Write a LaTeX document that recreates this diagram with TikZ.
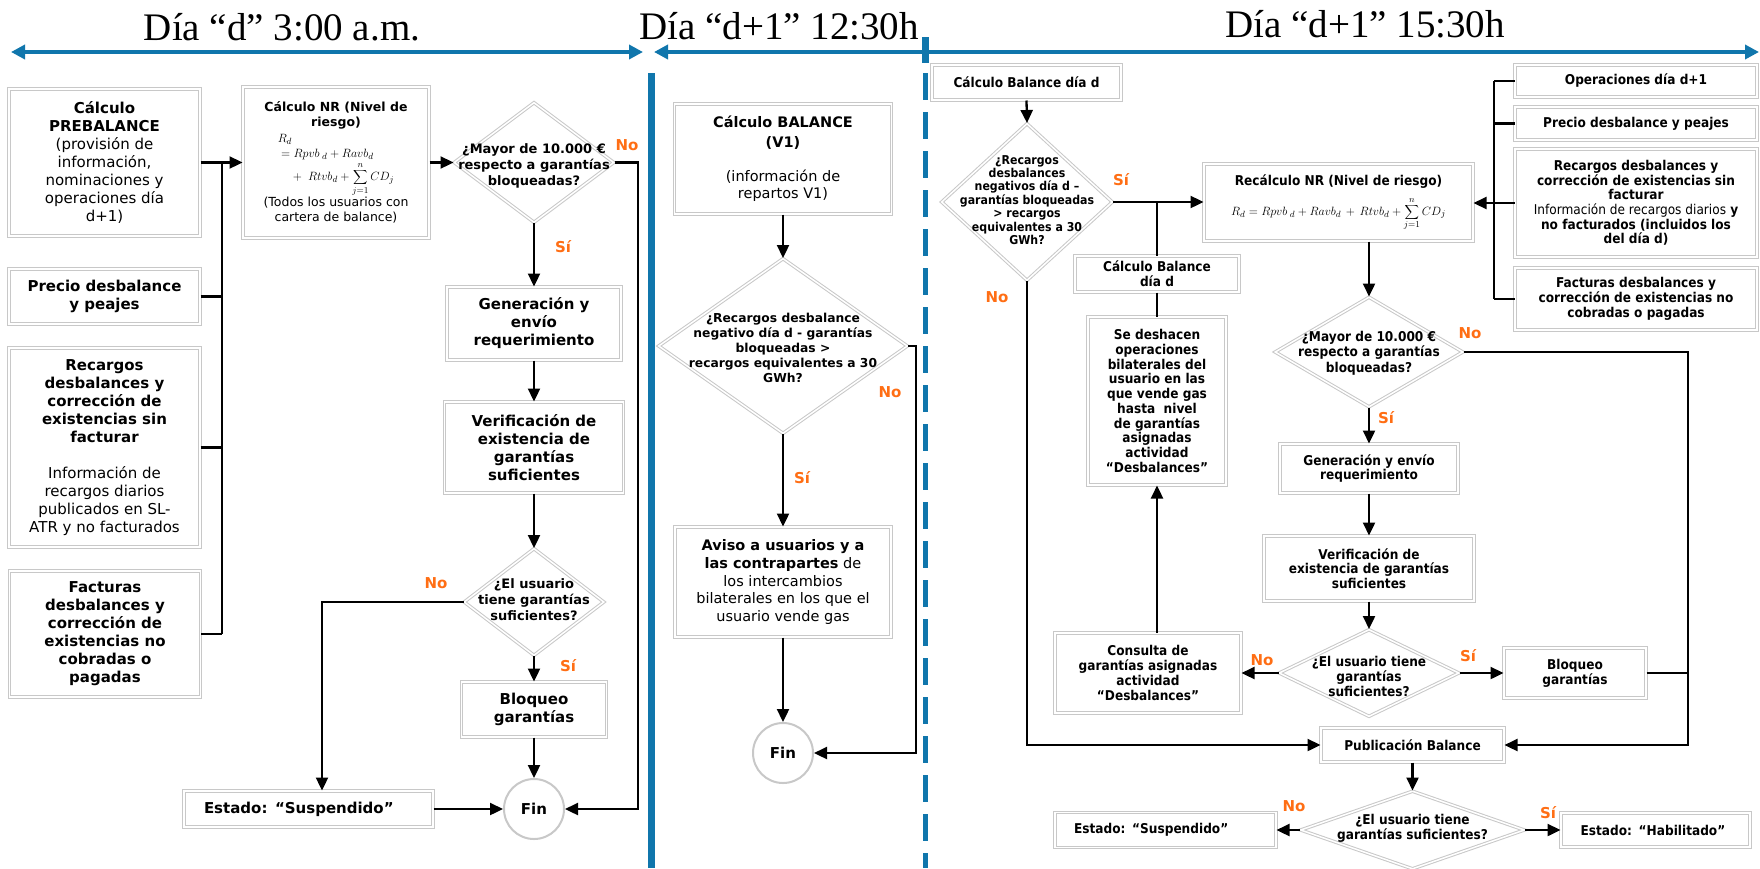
\documentclass[tikz,border=0pt]{standalone}
\usepackage{fontspec}
\usetikzlibrary{arrows.meta,shapes.geometric,calc}
\newfontfamily\vf{DejaVu Sans}
\newfontfamily\rf{DejaVu Sans}[FakeStretch=0.9]
\newfontfamily\tf{Liberation Serif}
\definecolor{blu}{RGB}{16,118,172}
\definecolor{orng}{RGB}{255,110,20}
\definecolor{bord}{RGB}{200,200,200}
\begin{document}
\begin{tikzpicture}[x=1pt,y=-1pt,
  bx/.style={draw=bord, double=white, double distance=1.5pt, line width=1pt, fill=white, align=center, inner sep=0pt},
  dia/.style={diamond, draw=bord, double=white, double distance=1.5pt, line width=1pt, fill=white, inner sep=0pt},
  fin/.style={circle, draw=bord, line width=2pt, fill=white, minimum size=60pt, inner sep=0pt, font=\vf\bfseries\fontsize{15}{18}\selectfont},
  lt/.style={font=\vf\fontsize{15}{18}\selectfont},
  ltb/.style={font=\vf\bfseries\fontsize{15}{18}\selectfont},
  rt/.style={font=\rf\bfseries\fontsize{13.5}{14.7}\selectfont},
  dtx/.style={align=center, inner sep=0pt},
  ttl/.style={font=\tf\fontsize{39}{44}\selectfont, anchor=base, inner sep=0pt},
  lab/.style={text=orng, inner sep=0pt, font=\vf\bfseries\fontsize{15}{18}\selectfont},
  ln/.style={line width=2.3pt, black},
  lnt/.style={line width=1.8pt, black},
  arr/.style={ln, -{Triangle[length=13pt,width=12pt]}},
  harr/.style={blu, line width=4.5pt, {Triangle[length=14pt,width=14pt]}-{Triangle[length=14pt,width=14pt]}}
]
\fill[white] (0,0) rectangle (1760,868);
\useasboundingbox (0,0) rectangle (1760,868);

% ---------- header ----------
\node[ttl] (t1) at (282,40) {Día “d” 3:00 a.m.};
\node[ttl] (t2) at (779,39) {Día “d+1” 12:30h};
\node[ttl] (t3) at (1365,37) {Día “d+1” 15:30h};
\coordinate (a1l) at (11,52); \coordinate (a1r) at (643,52);
\coordinate (a2l) at (654,52); \coordinate (a2r) at (1759,52);
\draw[harr] (a1l) -- (a1r);
\draw[harr] (a2l) -- (a2r);
\coordinate (v1t) at (651,73); \coordinate (v1b) at (651,868);
\draw[blu, line width=7pt] (v1t) -- (v1b);
\coordinate (v2t) at (925,73); \coordinate (v2b) at (925,868);
\draw[blu, line width=5pt, dash pattern=on 27pt off 12pt] (v2t) -- (v2b);
\coordinate (tkt) at (925,37); \coordinate (tkb) at (925,63);
\draw[blu, line width=7pt] (tkt) -- (tkb);

% ---------- left panel ----------
\node[bx, lt, minimum width=191pt, minimum height=147pt] (pre) at (104.5,162.5)
  {\textbf{Cálculo}\\\textbf{PREBALANCE}\\(provisión de\\información,\\nominaciones y\\operaciones día\\d+1)};
\node[bx, ltb, minimum width=191pt, minimum height=55pt] (prec) at (104.5,296.5)
  {Precio desbalance\\y peajes};
\node[bx, lt, minimum width=191pt, minimum height=199pt] (rec) at (104.5,447.5)
  {\textbf{Recargos}\\\textbf{desbalances y}\\\textbf{corrección de}\\\textbf{existencias sin}\\\textbf{facturar}\\[18pt]Información de\\recargos diarios\\publicados en SL-\\ATR y no facturados};
\node[bx, ltb, minimum width=191pt, minimum height=126pt] (fac) at (105,634)
  {Facturas\\desbalances y\\corrección de\\existencias no\\cobradas o\\pagadas};
\node[bx, font=\vf\fontsize{12.5}{15}\selectfont, minimum width=186pt, minimum height=151pt] (nr) at (336,162.5)
  {\textbf{Cálculo NR (Nivel de}\\\textbf{riesgo)}\\[2pt]
   {\fontsize{12.5}{14}\selectfont$\begin{array}{@{}l@{}}R_d\\[1pt] {}=Rpvb_{\;d}+Ravb_d\\[1pt] \quad{}+\;Rtvb_d+\displaystyle\sum_{j=1}^{n}CD_j\end{array}$}\\[0pt]
   (Todos los usuarios con\\cartera de balance)};
\node[dia, minimum width=160pt, minimum height=120pt] (d1) at (534,162.5) {};
\node[dtx, font=\vf\bfseries\fontsize{13}{15.6}\selectfont] (d1t) at (534,166) {¿Mayor de 10.000 €\\respecto a garantías\\bloqueadas?};
\node[bx, ltb, minimum width=174pt, minimum height=73pt] (gen) at (534,323.5) {Generación y\\envío\\requerimiento};
\node[bx, ltb, minimum width=179pt, minimum height=91pt] (ver) at (534,447.5) {Verificación de\\existencia de\\garantías\\suficientes};
\node[dia, minimum width=140pt, minimum height=107pt] (d2) at (534,602) {};
\node[dtx, font=\vf\bfseries\fontsize{13}{16}\selectfont] (d2t) at (534,600) {¿El usuario\\tiene garantías\\suficientes?};
\node[bx, ltb, minimum width=145pt, minimum height=55pt] (blo) at (534,709.5) {Bloqueo\\garantías};
\node[fin] (fin1) at (534,809) {Fin};
\node[bx, ltb, minimum width=249pt, minimum height=36pt, text width=209pt, align=left] (sus) at (308.5,809) {Estado: “Suspendido”};

\coordinate (bL) at (222,0);
\draw[arr] (pre.east) -- (pre.east -| nr.west);
\draw[ln] (pre.east -| bL) -- (fac.east -| bL);
\draw[ln] (prec.east) -- (prec.east -| bL);
\draw[ln] (rec.east) -- (rec.east -| bL);
\draw[ln] (fac.east) -- (fac.east -| bL);
\draw[arr] (nr.east) -- (d1.west);
\draw[arr] (d1.south) -- (gen.north);
\draw[arr] (gen.south) -- (ver.north);
\draw[arr] (ver.south) -- (d2.north);
\draw[arr] (d2.south) -- (blo.north);
\draw[arr] (blo.south) -- (fin1.north);
\coordinate (k0) at (322,0);
\draw[arr] (d2.west) -| (k0 |- sus.north);
\draw[arr] (sus.east) -- (fin1.west);
\coordinate (k1) at (638,809);
\draw[arr] (d1.east) -| (k1) -- (fin1.east);
\node[lab] (l1) at (627,145) {No};
\node[lab] (l2) at (563,247) {Sí};
\node[lab] (l3) at (436,583) {No};
\node[lab] (l4) at (568,666) {Sí};

% ---------- middle panel ----------
\node[bx, font=\vf\fontsize{14.5}{17}\selectfont, minimum width=217pt, minimum height=110pt] (bal) at (783,159)
  {\textbf{Cálculo BALANCE}\\[3pt]\textbf{(V1)}\\[17pt](información de\\repartos V1)};
\node[dia, minimum width=249pt, minimum height=175pt] (d3) at (783,346) {};
\node[dtx, font=\vf\bfseries\fontsize{12.3}{15}\selectfont] (d3t) at (783,348)
  {¿Recargos desbalance\\negativo día d - garantías\\bloqueadas >\\recargos equivalentes a 30\\GWh?};
\node[bx, font=\vf\fontsize{14.5}{17.6}\selectfont, minimum width=216pt, minimum height=110pt] (avi) at (783,582)
  {\textbf{Aviso a usuarios y a}\\\textbf{las contrapartes} de\\los intercambios\\bilaterales en los que el\\usuario vende gas};
\node[fin] (fin2) at (783,753) {Fin};
\draw[arr] (bal.south) -- (d3.north);
\draw[arr] (d3.south) -- (avi.north);
\draw[arr] (avi.south) -- (fin2.north);
\coordinate (k2) at (916,753);
\draw[arr] (d3.east) -| (k2) -- (fin2.east);
\node[lab] (l5) at (890,392) {No};
\node[lab] (l6) at (802,478) {Sí};

% ---------- right panel ----------
\node[bx, rt, minimum width=189pt, minimum height=35pt] (cbd) at (1026.5,82.5) {Cálculo Balance día d};
\node[dia, minimum width=171pt, minimum height=157pt] (d4) at (1027,202) {};
\node[dtx, font=\rf\bfseries\fontsize{12.2}{13.4}\selectfont] (d4t) at (1027,200)
  {¿Recargos\\desbalances\\negativos día d –\\garantías bloqueadas\\> recargos\\equivalentes a 30\\GWh?};
\node[bx, rt, minimum width=269pt, minimum height=77pt] (nr2) at (1338.5,202.5)
  {Recálculo NR (Nivel de riesgo)\\[8pt]
   {\fontsize{13}{14}\selectfont$R_d = Rpvb_{\;d}+Ravb_d\,+\,Rtvb_d+\displaystyle\sum_{j=1}^{n}CD_j$}};
\node[bx, rt, minimum width=164pt, minimum height=36pt] (cbd2) at (1157,274) {Cálculo Balance\\día d};
\node[bx, rt, minimum width=138pt, minimum height=168pt] (sed) at (1157,401)
  {Se deshacen\\operaciones\\bilaterales del\\usuario en las\\que vende gas\\hasta\ \ nivel\\de garantías\\asignadas\\actividad\\“Desbalances”};
\node[dia, minimum width=188pt, minimum height=110pt] (d5) at (1369,352) {};
\node[dtx, font=\rf\bfseries\fontsize{13.5}{15.3}\selectfont] (d5t) at (1369,353) {¿Mayor de 10.000 €\\respecto a garantías\\bloqueadas?};
\node[bx, rt, minimum width=178pt, minimum height=49pt] (gen2) at (1369,468.5) {Generación y envío\\requerimiento};
\node[bx, rt, minimum width=210pt, minimum height=65pt] (ver2) at (1369,568.5) {Verificación de\\existencia de garantías\\suficientes};
\node[dia, minimum width=180pt, minimum height=87pt] (d6) at (1369,673) {};
\node[dtx, font=\rf\bfseries\fontsize{13.5}{15}\selectfont] (d6t) at (1369,676) {¿El usuario tiene\\garantías\\suficientes?};
\node[bx, rt, minimum width=186pt, minimum height=80pt] (con) at (1148,673) {Consulta de\\garantías asignadas\\actividad\\“Desbalances”};
\node[bx, rt, minimum width=142pt, minimum height=50pt] (blo2) at (1575,673) {Bloqueo\\garantías};
\node[bx, rt, minimum width=183pt, minimum height=34pt] (pub) at (1412.5,745) {Publicación Balance};
\node[dia, minimum width=224pt, minimum height=78pt] (d7) at (1412.5,830) {};
\node[dtx, font=\rf\bfseries\fontsize{13.5}{15}\selectfont] (d7t) at (1412.5,828) {¿El usuario tiene\\garantías suficientes?};
\node[bx, rt, minimum width=221pt, minimum height=35pt, text width=183pt, align=left] (sus2) at (1165.5,830) {Estado: “Suspendido”};
\node[bx, rt, minimum width=189pt, minimum height=34pt, text width=150pt, align=left] (hab) at (1655.5,830) {Estado: “Habilitado”};
\node[bx, rt, minimum width=242pt, minimum height=32pt] (ops) at (1636,81) {Operaciones día d+1};
\node[bx, rt, minimum width=242pt, minimum height=33pt] (pre2) at (1636,123.5) {Precio desbalance y peajes};
\node[bx, rt, minimum width=242pt, minimum height=108pt] (rec2) at (1636,203)
  {Recargos desbalances y\\corrección de existencias sin\\facturar\\\textmd{Información de recargos diarios} y\\no facturados (incluidos los\\del día d)};
\node[bx, rt, minimum width=242pt, minimum height=62pt] (fac2) at (1636,299)
  {Facturas desbalances y\\corrección de existencias no\\cobradas o pagadas};

\draw[arr] (cbd.south) -- (d4.north);
\draw[arr] (d4.east) -- (d4.east -| nr2.west);
\draw[lnt] (d4.east -| cbd2.north) -- (cbd2.north);
\draw[lnt] (cbd2.south) -- (sed.north);
\draw[arr] (sed.south |- con.north) -- (sed.south);
\draw[arr] (d5.north |- nr2.south) -- (d5.north);
\draw[arr] (d5.south) -- (gen2.north);
\draw[arr] (gen2.south) -- (ver2.north);
\draw[arr] (ver2.south) -- (d6.north);
\draw[arr] (d6.west) -- (con.east);
\draw[arr] (d6.east) -- (blo2.west);
\coordinate (kR) at (1688,745);
\draw[lnt] (blo2.east) -- (blo2.east -| kR);
\draw[arr] (d5.east) -| (kR) -- (pub.east);
\coordinate (kL) at (1027,745);
\draw[arr] (d4.south) -- (kL) -- (pub.west);
\draw[arr] (pub.south) -- (d7.north);
\draw[arr] (d7.west) -- (sus2.east);
\draw[arr] (d7.east) -- (hab.west);
\coordinate (bR) at (1494,0);
\draw[ln] (ops.west -| bR) -- (fac2.west -| bR);
\draw[ln] (ops.west) -- (ops.west -| bR);
\draw[ln] (pre2.west) -- (pre2.west -| bR);
\draw[ln] (fac2.west) -- (fac2.west -| bR);
\draw[arr] (rec2.west) -- (rec2.west -| nr2.east);
\node[lab] (l7) at (1121,180) {Sí};
\node[lab] (l8) at (997,297) {No};
\node[lab] (l9) at (1470,333) {No};
\node[lab] (l10) at (1386,418) {Sí};
\node[lab] (l11) at (1262,660) {No};
\node[lab] (l12) at (1468,656) {Sí};
\node[lab] (l13) at (1294,806) {No};
\node[lab] (l14) at (1548,813) {Sí};
\end{tikzpicture}
\end{document}
